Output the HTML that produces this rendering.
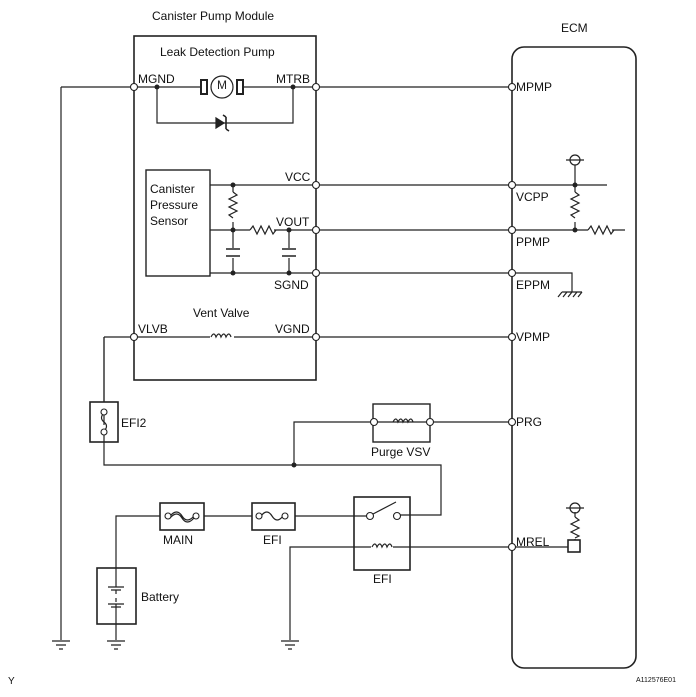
<!DOCTYPE html><html><head><style>body{margin:0;background:#fff}svg text{font-family:"Liberation Sans",sans-serif;fill:#111}</style></head><body>
<svg width="696" height="692" viewBox="0 0 696 692" xmlns="http://www.w3.org/2000/svg">
<g stroke="#222" stroke-width="1.2" fill="none">
<rect x="134" y="36" width="182" height="344" stroke-width="1.6"/>
<rect x="146" y="170" width="64" height="106" stroke-width="1.4"/>
<rect x="512" y="47" width="124" height="621" rx="12" stroke-width="1.6"/>
<path d="M61 87H134M61 87V640M134 87H201M243 87H512M157 87V123H293V87"/>
<path d="M210 185H607M210 230H512M512 230H625M210 273H512M512 273H572V292"/>
<path d="M104 337H512M104 337V465H441V515H398"/>
<path d="M294 465V422H512"/>
<path d="M116 640V516H370"/>
<path d="M290 640V547H512"/>
<path d="M233 185V273M289 230V273"/>
<path d="M575 165V230M575 546V512M512 547H568"/>
</g>
<g fill="#fff" stroke="none">
<rect x="225" y="192" width="16" height="30"/><rect x="226" y="248" width="14" height="10"/><rect x="282" y="248" width="14" height="10"/>
<rect x="250" y="225" width="24" height="10"/><rect x="567" y="192" width="16" height="30"/><rect x="588" y="225" width="24" height="10"/>
<rect x="210" y="332" width="24" height="10"/>
<rect x="567" y="517" width="16" height="22"/>
<rect x="371" y="542" width="22" height="8"/>
</g>
<g stroke="#222" stroke-width="1.2" fill="none">
<path d="M233 192l4 3-8 4 8 4-8 4 8 4-8 4 4 3"/>
<path d="M575 192l4 3-8 4 8 4-8 4 8 4-8 4 4 3"/>
<path d="M250 230l3-4 4 8 4-8 4 8 4-8 4 8 3-4"/>
<path d="M588 230l3-4 4 8 4-8 4 8 4-8 4 8 3-4"/>
<path d="M575 517l4 3-8 4 8 4-8 4 8 4-4 2"/>
<path d="M226 249H240M226 256H240M282 249H296M282 256H296" stroke-width="1.6"/>
<path d="M211 337q3-6 5 0q3-6 5 0q3-6 5 0q3-6 5 0"/>
<path d="M393 422q3-6 5 0q3-6 5 0q3-6 5 0q3-6 5 0"/>
<path d="M372 547q3-6 5 0q3-6 5 0q3-6 5 0q3-6 5 0"/>
<rect x="201" y="80" width="6" height="14" stroke-width="2"/><rect x="237" y="80" width="6" height="14" stroke-width="2"/>
<circle cx="222" cy="87" r="11"/>
<path d="M216 118v10l8-5z" fill="#222"/><path d="M226 117v12M226 117l-3-2M226 129l3 2" stroke-width="1.6"/>
<path d="M52 641H70M56 645H66M59 649H63M107 641H125M111 645H121M114 649H118M281 641H299M285 645H295M288 649H292"/>
<path d="M562 292H582M562 292l-4 5M567 292l-4 5M572 292l-4 5M577 292l-4 5M582 292l-4 5"/>
<circle cx="575" cy="160" r="5"/><path d="M566 160H584"/>
<circle cx="575" cy="508" r="5"/><path d="M566 508H584"/>
<rect x="568" y="540" width="12" height="12" stroke-width="1.6" fill="#fff"/>
<rect x="90" y="402" width="28" height="40" stroke-width="1.6" fill="#fff"/>
<rect x="160" y="503" width="44" height="27" stroke-width="1.6" fill="#fff"/>
<rect x="252" y="503" width="43" height="27" stroke-width="1.6" fill="#fff"/>
<rect x="373" y="404" width="57" height="38" stroke-width="1.4"/>
<rect x="354" y="497" width="56" height="73" stroke-width="1.6"/>
<rect x="97" y="568" width="39" height="56" stroke-width="1.6" fill="#fff"/>
<path d="M104 410V425M104 434V442M104 402V337"/>
<path d="M104 413q-5 5 0 9q5 4 0 9"/>
<path d="M170 516q7-8 12 0q5 8 12 0M170 518q7-8 12 0q5 8 12 0" />
<path d="M261 516q6-8 11 0q5 8 11 0"/>
<path d="M373 514L396 502M116 568V587M116 604V624M116 590v4M116 598v4M108 587H124M111 590H121M108 604H124M111 607H121"/>
</g>
<g fill="#fff" stroke="#222" stroke-width="1.1">
<circle cx="134" cy="87" r="3.5"/><circle cx="316" cy="87" r="3.5"/><circle cx="316" cy="185" r="3.5"/><circle cx="316" cy="230" r="3.5"/><circle cx="316" cy="273" r="3.5"/><circle cx="316" cy="337" r="3.5"/><circle cx="134" cy="337" r="3.5"/>
<circle cx="512" cy="87" r="3.5"/><circle cx="512" cy="185" r="3.5"/><circle cx="512" cy="230" r="3.5"/><circle cx="512" cy="273" r="3.5"/><circle cx="512" cy="337" r="3.5"/><circle cx="512" cy="422" r="3.5"/><circle cx="512" cy="547" r="3.5"/>
<circle cx="374" cy="422" r="3.5"/><circle cx="430" cy="422" r="3.5"/>
<circle cx="104" cy="412" r="3"/><circle cx="104" cy="432" r="3"/>
<circle cx="168" cy="516" r="3"/><circle cx="196" cy="516" r="3"/><circle cx="259" cy="516" r="3"/><circle cx="285" cy="516" r="3"/>
<circle cx="370" cy="516" r="3.5"/><circle cx="397" cy="516" r="3.5"/>
</g>
<g fill="#222">
<circle cx="157" cy="87" r="2.5"/><circle cx="293" cy="87" r="2.5"/><circle cx="233" cy="185" r="2.5"/><circle cx="233" cy="230" r="2.5"/><circle cx="233" cy="273" r="2.5"/><circle cx="289" cy="230" r="2.5"/><circle cx="289" cy="273" r="2.5"/>
<circle cx="575" cy="185" r="2.5"/><circle cx="575" cy="230" r="2.5"/><circle cx="294" cy="465" r="2.5"/>
</g>
<text x="222" y="89" font-size="12" text-anchor="middle" style="fill:#222">M</text>
<g font-size="12">
<text x="152" y="20">Canister Pump Module</text>
<text x="160" y="56">Leak Detection Pump</text>
<text x="138" y="83">MGND</text><text x="276" y="83">MTRB</text>
<text x="285" y="181">VCC</text><text x="276" y="226">VOUT</text><text x="274" y="289">SGND</text>
<text x="150" y="193">Canister</text><text x="150" y="209">Pressure</text><text x="150" y="225">Sensor</text>
<text x="193" y="317">Vent Valve</text>
<text x="138" y="333">VLVB</text><text x="275" y="333">VGND</text>
<text x="561" y="32">ECM</text>
<text x="516" y="91">MPMP</text><text x="516" y="201">VCPP</text><text x="516" y="246">PPMP</text><text x="516" y="289">EPPM</text><text x="516" y="341">VPMP</text><text x="516" y="426">PRG</text><text x="516" y="546">MREL</text>
<text x="121" y="427">EFI2</text><text x="371" y="456">Purge VSV</text>
<text x="163" y="544">MAIN</text><text x="263" y="544">EFI</text><text x="373" y="583">EFI</text><text x="141" y="601">Battery</text>
<text x="8" y="684" font-size="10">Y</text>
</g>
<text x="636" y="682" font-size="7">A112576E01</text>
</svg></body></html>
